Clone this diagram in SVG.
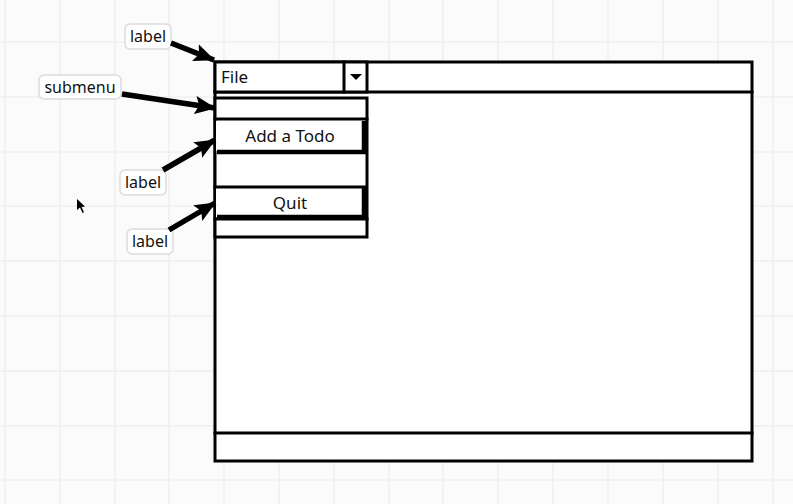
<svg xmlns="http://www.w3.org/2000/svg" width="793" height="504" viewBox="0 0 793 504">
  <defs>
    <style>
      .grid line { stroke: #efefef; stroke-width: 1.5; }
      .frame { fill: #ffffff; stroke: #000000; stroke-width: 3; }
      .edge { stroke: #000000; stroke-width: 3; fill: none; stroke-linecap: square; }
      .heavy { stroke: #000000; stroke-width: 4.5; fill: none; }
      .txt { font-family: "Noto Sans", "Open Sans", "Liberation Sans", sans-serif; font-size: 17px; fill: #111111; }
      .tag rect { fill: #ffffff; stroke: #dcdcdc; stroke-width: 1.5; }
      .tag text { font-family: "Noto Sans", "Open Sans", "Liberation Sans", sans-serif; font-size: 16px; fill: #111111; text-anchor: middle; }
      .conn line { stroke: #000000; stroke-width: 5.5; marker-end: url(#head); }
    </style>
    <marker id="head" markerUnits="userSpaceOnUse" markerWidth="22" markerHeight="22" viewBox="0 0 22 22" refX="20" refY="11" orient="auto">
      <path d="M0,2 L21,11 L0,20 L4,11 Z" fill="#000000"/>
    </marker>
  </defs>

  <!-- canvas -->
  <rect width="793" height="504" fill="#fbfbfb"/>
  <g class="grid">
    <line x1="5" y1="0" x2="5" y2="504"/>
    <line x1="60" y1="0" x2="60" y2="504"/>
    <line x1="115" y1="0" x2="115" y2="504"/>
    <line x1="169" y1="0" x2="169" y2="504"/>
    <line x1="224" y1="0" x2="224" y2="504"/>
    <line x1="279" y1="0" x2="279" y2="504"/>
    <line x1="334" y1="0" x2="334" y2="504"/>
    <line x1="389" y1="0" x2="389" y2="504"/>
    <line x1="443" y1="0" x2="443" y2="504"/>
    <line x1="498" y1="0" x2="498" y2="504"/>
    <line x1="553" y1="0" x2="553" y2="504"/>
    <line x1="608" y1="0" x2="608" y2="504"/>
    <line x1="663" y1="0" x2="663" y2="504"/>
    <line x1="718" y1="0" x2="718" y2="504"/>
    <line x1="773" y1="0" x2="773" y2="504"/>
    <line x1="0" y1="42" x2="793" y2="42"/>
    <line x1="0" y1="97" x2="793" y2="97"/>
    <line x1="0" y1="152" x2="793" y2="152"/>
    <line x1="0" y1="206" x2="793" y2="206"/>
    <line x1="0" y1="261" x2="793" y2="261"/>
    <line x1="0" y1="316" x2="793" y2="316"/>
    <line x1="0" y1="371" x2="793" y2="371"/>
    <line x1="0" y1="426" x2="793" y2="426"/>
    <line x1="0" y1="480" x2="793" y2="480"/>
  </g>

  <!-- application window -->
  <g id="window">
    <rect class="frame" x="215" y="62" width="537" height="399"/>
    <line class="edge" x1="215" y1="92" x2="752" y2="92"/>
    <line class="edge" x1="215" y1="433" x2="752" y2="433"/>
  </g>

  <!-- File dropdown in the menu bar -->
  <g id="file-menu">
    <rect class="frame" x="215" y="62" width="152" height="30"/>
    <line class="edge" x1="344" y1="62" x2="344" y2="92"/>
    <path d="M350,74 L362,74 L356,80 Z" fill="#000000"/>
    <text class="txt" x="221" y="83">File</text>
  </g>

  <!-- submenu panel -->
  <g id="submenu">
    <rect class="frame" x="215" y="98" width="152" height="139"/>
    <line class="edge" x1="215" y1="119" x2="367" y2="119"/>
    <line class="edge" x1="215" y1="219" x2="367" y2="219"/>
  </g>

  <g id="item-add">
    <rect x="216" y="121" width="148" height="30" fill="#ffffff"/>
    <line class="heavy" x1="217" y1="152" x2="366" y2="152"/>
    <line class="heavy" x1="364" y1="121" x2="364" y2="152"/>
    <text class="txt" x="290" y="142" text-anchor="middle">Add a Todo</text>
  </g>

  <g id="item-quit">
    <rect x="216" y="187" width="148" height="30" fill="#ffffff"/>
    <line class="edge" x1="215" y1="187" x2="366" y2="187"/>
    <line class="heavy" x1="217" y1="217" x2="366" y2="217"/>
    <line class="heavy" x1="364" y1="187" x2="364" y2="217"/>
    <text class="txt" x="290" y="209" text-anchor="middle">Quit</text>
  </g>

  <!-- callout tags -->
  <g id="tag-file" class="tag">
    <rect x="125" y="24" width="46" height="25" rx="5"/>
    <text x="148" y="42">label</text>
  </g>
  <g id="tag-submenu" class="tag">
    <rect x="39" y="75" width="82" height="24" rx="5"/>
    <text x="80" y="93">submenu</text>
  </g>
  <g id="tag-add" class="tag">
    <rect x="120" y="170" width="46" height="25" rx="5"/>
    <text x="143" y="188">label</text>
  </g>
  <g id="tag-quit" class="tag">
    <rect x="127" y="229" width="46" height="25" rx="5"/>
    <text x="150" y="247">label</text>
  </g>

  <!-- connectors -->
  <g id="connectors" class="conn">
    <line x1="171" y1="43" x2="214" y2="60"/>
    <line x1="122" y1="94" x2="215" y2="108"/>
    <line x1="163" y1="170" x2="215" y2="140"/>
    <line x1="169" y1="230" x2="215" y2="203"/>
  </g>

  <!-- mouse pointer -->
  <path d="M77,199 L77,210 L80,207.5 L82.5,213 L84,212.3 L81.6,207 L85,206.5 Z" fill="#000000"/>
</svg>
